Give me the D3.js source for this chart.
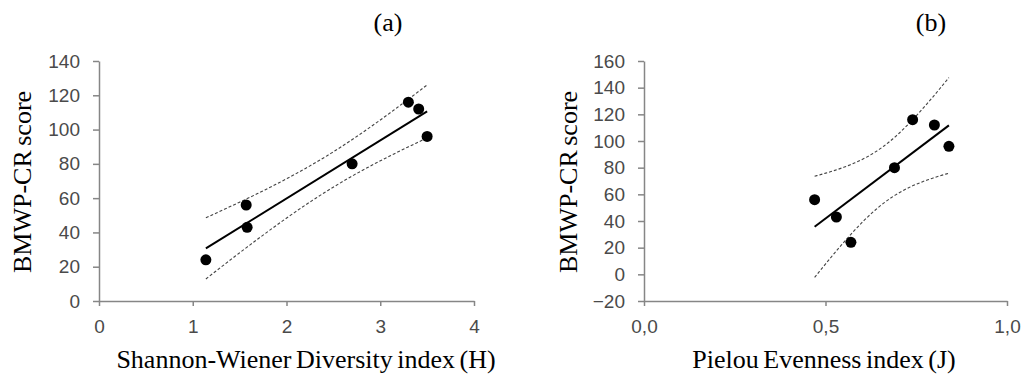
<!DOCTYPE html>
<html>
<head>
<meta charset="utf-8">
<script src="https://cdn.jsdelivr.net/npm/d3@7"></script>
<style>
  body { margin: 0; background: #fff; }
  svg { display: block; }
  .tick text { font-family: "Liberation Sans", Arial, sans-serif; font-size: 19px; fill: #4a4a4a; }
  .ttl { font-family: "Liberation Serif", "Times New Roman", serif; fill: #000; }
</style>
</head>
<body>
<div id="chart"></div>
<script>
// site values (same site order in every array)
const shannonH = [1.14, 1.57, 1.58, 2.70, 3.30, 3.41, 3.50];
const pielouJ = [0.57, 0.47, 0.53, 0.69, 0.74, 0.80, 0.84];
const bmwpScore = [24, 56, 43, 80, 116, 112, 96];

const xTicksA = [0, 1, 2, 3, 4];
const yTicksA = [0, 20, 40, 60, 80, 100, 120, 140];
const xTicksB = [0, 0.5, 1];
const yTicksB = [-20, 0, 20, 40, 60, 80, 100, 120, 140, 160];

const width = 1027;
const height = 376;

const svg = d3.select("#chart")
  .append("svg")
  .attr("width", width)
  .attr("height", height);

// least squares fit with 95% confidence band of the mean
const fitLine = (xs, ys) => {
  const n = xs.length;
  const mx = d3.mean(xs);
  const my = d3.mean(ys);
  const sxx = d3.sum(xs, (x) => (x - mx) ** 2);
  const sxy = d3.sum(xs, (x, i) => (x - mx) * (ys[i] - my));
  const b = sxy / sxx;
  const a = my - b * mx;
  const sse = d3.sum(xs, (x, i) => (ys[i] - (a + b * x)) ** 2);
  const s = Math.sqrt(sse / (n - 2));
  const t = 2.571; // t(0.975, df = 5)
  const band = (x) => t * s * Math.sqrt(1 / n + (x - mx) ** 2 / sxx);
  return { a, b, band, x0: d3.min(xs), x1: d3.max(xs) };
};

const drawPanel = (cfg) => {
  const x = d3.scaleLinear().domain(cfg.xDomain).range(cfg.xRange);
  const y = d3.scaleLinear().domain(cfg.yDomain).range([301, 61]);
  const g = svg.append("g");

  // y axis
  const yAxis = g.append("g")
    .attr("transform", `translate(${cfg.xRange[0]},0)`)
    .call(d3.axisLeft(y).tickValues(cfg.yTicks).tickSize(6).tickSizeOuter(0).tickPadding(13));
  // x axis
  const xAxis = g.append("g")
    .attr("transform", "translate(0,301)")
    .call(d3.axisBottom(x).tickValues(cfg.xTicks).tickFormat(cfg.xFormat).tickSize(5).tickSizeOuter(0).tickPadding(14));

  [yAxis, xAxis].forEach((ax) => {
    ax.select(".domain").attr("stroke", "#868686").attr("stroke-width", 1.5);
    ax.selectAll(".tick line").attr("stroke", "#868686").attr("stroke-width", 1.5);
  });

  const fit = fitLine(cfg.xs, cfg.ys);
  const samples = d3.range(0, 61).map((i) => fit.x0 + (fit.x1 - fit.x0) * i / 60);

  // confidence band lines
  [1, -1].forEach((sign) => {
    g.append("path")
      .datum(samples)
      .attr("fill", "none")
      .attr("stroke", "#444")
      .attr("stroke-width", 1.1)
      .attr("stroke-dasharray", "3,2")
      .attr("d", d3.line()
        .x((d) => x(d))
        .y((d) => y(fit.a + fit.b * d + sign * fit.band(d))));
  });

  // regression line
  g.append("line")
    .attr("x1", x(fit.x0))
    .attr("y1", y(fit.a + fit.b * fit.x0))
    .attr("x2", x(fit.x1))
    .attr("y2", y(fit.a + fit.b * fit.x1))
    .attr("stroke", "#000")
    .attr("stroke-width", 2);

  // sites
  g.selectAll("circle")
    .data(cfg.xs)
    .join("circle")
    .attr("cx", (d) => x(d))
    .attr("cy", (d, i) => y(cfg.ys[i]))
    .attr("r", 5.5)
    .attr("fill", "#000");

  // labels
  g.append("text")
    .attr("class", "ttl")
    .attr("transform", `translate(${cfg.yLabelX},182) rotate(-90)`)
    .attr("text-anchor", "middle")
    .attr("dy", "0.35em")
    .attr("font-size", 26)
    .attr("word-spacing", -2)
    .text("BMWP-CR score");

  g.append("text")
    .attr("class", "ttl")
    .attr("x", cfg.xLabelX)
    .attr("y", 368)
    .attr("text-anchor", "middle")
    .attr("font-size", 26)
    .attr("word-spacing", -2)
    .text(cfg.xLabel);

  g.append("text")
    .attr("class", "ttl")
    .attr("x", cfg.tagX)
    .attr("y", 31)
    .attr("text-anchor", "middle")
    .attr("font-size", 26)
    .text(cfg.tag);
};

drawPanel({
  xs: shannonH, ys: bmwpScore,
  xDomain: [0, 4], xRange: [99, 474],
  yDomain: [0, 140],
  xTicks: xTicksA, yTicks: yTicksA,
  xFormat: d3.format("d"),
  xLabel: "Shannon-Wiener Diversity index (H)", xLabelX: 306,
  yLabelX: 22, tag: "(a)", tagX: 388
});

drawPanel({
  xs: pielouJ, ys: bmwpScore,
  xDomain: [0, 1], xRange: [644, 1007],
  yDomain: [-20, 160],
  xTicks: xTicksB, yTicks: yTicksB,
  xFormat: (d) => d3.format(".1f")(d).replace(".", ","),
  xLabel: "Pielou Evenness index (J)", xLabelX: 824,
  yLabelX: 568, tag: "(b)", tagX: 931
});
</script>
</body>
</html>
